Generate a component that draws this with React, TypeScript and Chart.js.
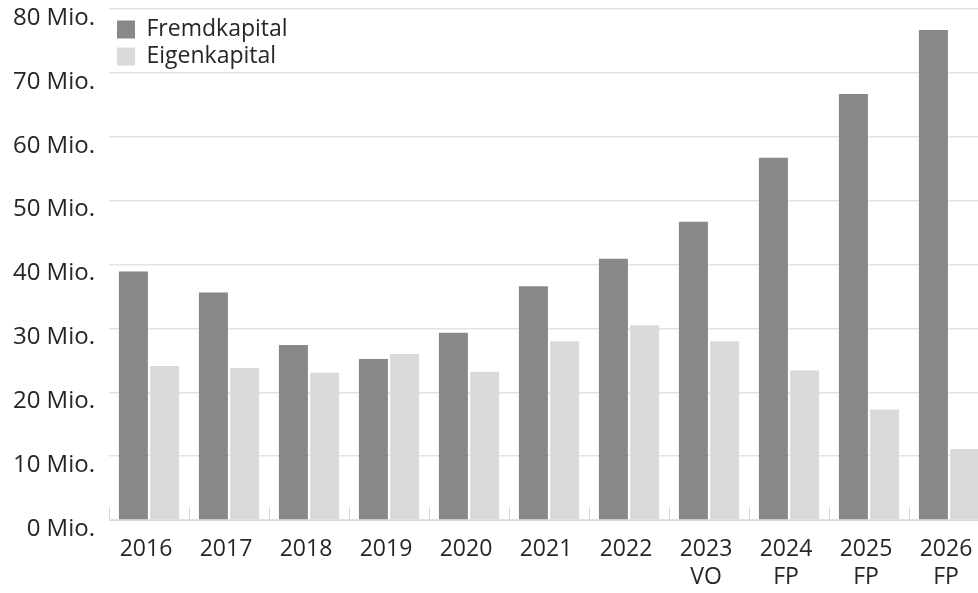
import React, { useEffect, useRef } from "react";
import { Chart, registerables } from "chart.js";

Chart.register(...registerables);

// ---- Data ----
const categories: (string | string[])[] = [
  "2016",
  "2017",
  "2018",
  "2019",
  "2020",
  "2021",
  "2022",
  ["2023", "VO"],
  ["2024", "FP"],
  ["2025", "FP"],
  ["2026", "FP"],
];
const fremdkapital = [38.9, 35.6, 27.4, 25.2, 29.3, 36.6, 40.9, 46.7, 56.7, 66.7, 76.7];
const eigenkapital = [24.1, 23.8, 23.05, 26.0, 23.2, 28.0, 30.5, 28.0, 23.4, 17.3, 11.1];
const seriesNames = ["Fremdkapital", "Eigenkapital"];
const yMin = 0;
const yMax = 80;
const yStep = 10;
const ySuffix = " Mio.";

const FONT = "'Open Sans', 'DejaVu Sans', sans-serif";
const TEXT = "#262626";
const DARK = "#878887";
const LIGHT = "#d9dad9";
const GRID = "#e3e3e3";

// nudges the legend box inside the plot area
const legendNudge = {
  id: "legendNudge",
  afterLayout(chart: any) {
    const lg = chart.legend;
    if (!lg) return;
    lg.left += 4;
    lg.right += 4;
    lg.top += 14;
    lg.bottom += 14;
  },
};

export default function App() {
  const canvasRef = useRef<HTMLCanvasElement | null>(null);

  useEffect(() => {
    const canvas = canvasRef.current;
    if (!canvas) return;
    const chart = new Chart(canvas, {
      type: "bar",
      data: {
        labels: categories as any,
        datasets: [
          {
            label: seriesNames[0],
            data: fremdkapital,
            backgroundColor: DARK,
            borderWidth: 0,
            categoryPercentage: 0.78,
            barPercentage: 0.93,
          },
          {
            label: seriesNames[1],
            data: eigenkapital,
            backgroundColor: LIGHT,
            borderWidth: 0,
            categoryPercentage: 0.78,
            barPercentage: 0.93,
          },
        ],
      },
      options: {
        responsive: false,
        animation: false,
        devicePixelRatio: 1,
        layout: { padding: { left: 0, right: 1, top: 9, bottom: 0 } },
        plugins: {
          tooltip: { enabled: false },
          legend: {
            position: "chartArea" as any,
            align: "start",
            labels: {
              boxWidth: 18,
              boxHeight: 18,
              padding: 4,
              color: TEXT,
              font: { family: FONT, size: 23 },
            },
          },
        },
        scales: {
          x: {
            grid: {
              offset: true,
              drawOnChartArea: false,
              drawTicks: true,
              tickLength: -13,
              color: "#d9d9d9",
              lineWidth: 1,
            },
            border: { display: true, color: "#d9d9d9", width: 1 },
            ticks: {
              color: TEXT,
              padding: 28,
              labelOffset: -3,
              maxRotation: 0,
              autoSkip: false,
              font: { family: FONT, size: 23, lineHeight: 1.22 },
            },
            afterFit: (scale: any) => {
              scale.height = 73;
              scale.paddingLeft = 0;
              scale.paddingRight = 0;
            },
          },
          y: {
            min: yMin,
            max: yMax,
            grid: { color: GRID, lineWidth: 1.5, drawTicks: false },
            border: { display: false },
            ticks: {
              stepSize: yStep,
              color: TEXT,
              padding: 14,
              labelOffset: 9,
              font: { family: FONT, size: 24 },
              callback: (v: any) => `${v}${ySuffix}`,
            },
            afterFit: (scale: any) => {
              scale.width = 109;
              scale.paddingTop = 0;
              scale.paddingBottom = 0;
            },
          },
        },
      },
      plugins: [legendNudge],
    });
    return () => chart.destroy();
  }, []);

  return (
    <div
      style={{
        position: "fixed",
        left: 0,
        top: 0,
        width: 978,
        height: 593,
        overflow: "hidden",
        background: "#ffffff",
      }}
    >
      <canvas ref={canvasRef} width={990} height={593} style={{ display: "block" }} />
    </div>
  );
}
